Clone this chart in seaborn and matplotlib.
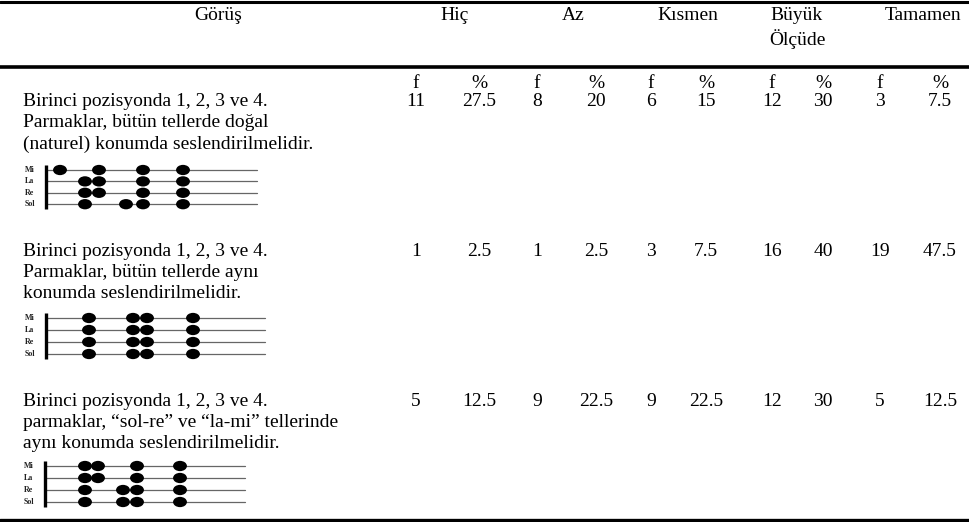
import numpy as np
import pandas as pd
import matplotlib
matplotlib.use("Agg")
import matplotlib.pyplot as plt
from matplotlib.path import Path
import seaborn as sns

# table content
header_groups = ["Hiç", "Az", "Kısmen", "Büyük\nÖlçüde", "Tamamen"]
opinions = [
    ["Birinci pozisyonda 1, 2, 3 ve 4.",
     "Parmaklar, bütün tellerde doğal",
     "(naturel) konumda seslendirilmelidir."],
    ["Birinci pozisyonda 1, 2, 3 ve 4.",
     "Parmaklar, bütün tellerde aynı",
     "konumda seslendirilmelidir."],
    ["Birinci pozisyonda 1, 2, 3 ve 4.",
     "parmaklar, \u201csol-re\u201d ve \u201cla-mi\u201d tellerinde",
     "aynı konumda seslendirilmelidir."],
]
f_hic = [11, 1, 5]
p_hic = [27.5, 2.5, 12.5]
f_az = [8, 1, 9]
p_az = [20, 2.5, 22.5]
f_kismen = [6, 3, 9]
p_kismen = [15, 7.5, 22.5]
f_buyuk = [12, 16, 12]
p_buyuk = [30, 40, 30]
f_tamamen = [3, 19, 5]
p_tamamen = [7.5, 47.5, 12.5]

# fingerboard diagrams: string names and finger offsets from the nut (per string)
string_names = ["Mi", "La", "Re", "Sol"]
diagram_fingers = [
    {"Mi": [14, 53, 97, 137], "La": [39, 53, 97, 137],
     "Re": [39, 53, 97, 137], "Sol": [39, 80, 97, 137]},
    {"Mi": [43, 87, 101, 147], "La": [43, 87, 101, 147],
     "Re": [43, 87, 101, 147], "Sol": [43, 87, 101, 147]},
    {"Mi": [40, 53, 92, 135], "La": [40, 53, 92, 135],
     "Re": [40, 78, 92, 135], "Sol": [40, 78, 92, 135]},
]

sns.set_theme(style="white")
plt.rcParams['font.family'] = ['Liberation Serif', 'DejaVu Serif']

W, H = 970, 522
fig = plt.figure(figsize=(W / 100, H / 100), dpi=100)
ax = fig.add_axes([0, 0, 1, 1])

fs = 14
txt = dict(fontsize=fs, color="black", va="center")

# rules
for y, lw in [(1.5, 2.2), (67, 2.6), (519.5, 2.4)]:
    ax.axhline(y, color="black", lw=lw)

# header
f_cols = [416, 537, 651, 772, 880]
p_cols = [479, 596, 706, 823, 940]
head_x = [455, 573, 688, 797, 923]
ax.text(218, 16, "Görüş", ha="center", **txt)
for hx, name in zip(head_x, header_groups):
    for i, part in enumerate(name.split("\n")):
        ax.text(hx, 16 + i * 23, part, ha="center", **txt)
for fx, px in zip(f_cols, p_cols):
    ax.text(fx, 83, "f", ha="center", **txt)
    ax.text(px, 83, "%", ha="center", **txt)

# body rows
row_y = [101, 251, 401]
line_pitch = 21.5
f_vals = [f_hic, f_az, f_kismen, f_buyuk, f_tamamen]
p_vals = [p_hic, p_az, p_kismen, p_buyuk, p_tamamen]
for r, y0 in enumerate(row_y):
    for i, line in enumerate(opinions[r]):
        ax.text(23, y0 + i * line_pitch, line, ha="left", **txt)
    for c in range(5):
        ax.text(f_cols[c], y0, f"{f_vals[c][r]:g}", ha="center", **txt)
        ax.text(p_cols[c], y0, f"{p_vals[c][r]:g}", ha="center", **txt)

# diagrams
circ = Path.unit_circle()
ellipse = Path(circ.vertices * np.array([1.35, 1.0]), circ.codes)
diag_boxes = [  # nut x, top string y, string gap, string end x
    (46, 170, 11.4, 257),
    (46, 318, 12.0, 265),
    (45, 466, 12.0, 245),
]
for fingers, (nut, top, gap, end) in zip(diagram_fingers, diag_boxes):
    ys = [top + k * gap for k in range(4)]
    for name, y in zip(string_names, ys):
        ax.plot([nut, end], [y, y], color="#666666", lw=0.9, zorder=1)
        ax.text(nut - 21, y, name, ha="left", va="center", fontsize=5.8,
                fontweight="bold", color="#222222")
    ax.plot([nut, nut], [ys[0] - 5, ys[-1] + 5], color="black", lw=2.4,
            solid_capstyle="butt", zorder=2)
    df = pd.DataFrame([(nut + off, y) for name, y in zip(string_names, ys)
                       for off in fingers[name]], columns=["x", "y"])
    sns.scatterplot(data=df, x="x", y="y", ax=ax, marker=ellipse, s=100,
                    color="black", edgecolor="none", legend=False, zorder=3)

ax.set_xlim(0, W)
ax.set_ylim(H, 0)
ax.axis("off")
fig.savefig("out.png", dpi=100, facecolor="white")
